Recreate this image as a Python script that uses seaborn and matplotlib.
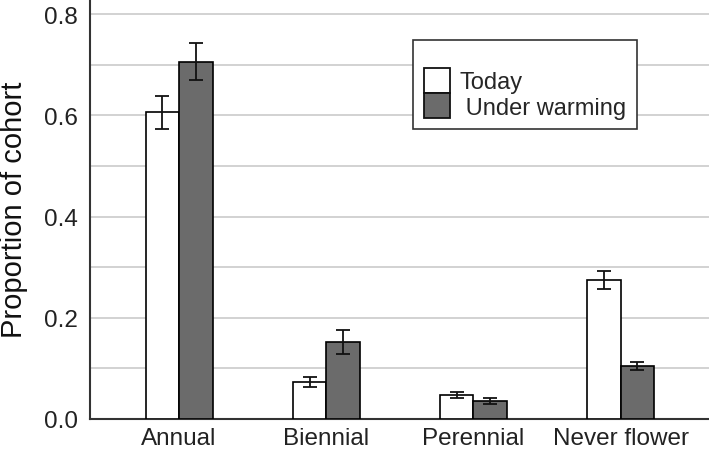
import matplotlib
matplotlib.use("Agg")
import matplotlib.pyplot as plt
import seaborn as sns
import pandas as pd
import numpy as np

categories = ["Annual", "Biennial", "Perennial", "Never flower"]
conditions = ["Today", "Under warming"]
today = [0.607, 0.072, 0.047, 0.274]
today_lo = [0.573, 0.064, 0.041, 0.256]
today_hi = [0.639, 0.082, 0.053, 0.292]
warming = [0.706, 0.153, 0.036, 0.105]
warming_lo = [0.669, 0.129, 0.030, 0.096]
warming_hi = [0.743, 0.176, 0.042, 0.112]
yticks = [0.0, 0.2, 0.4, 0.6, 0.8]
legend_labels = ["Today", " Under warming"]

df = pd.DataFrame({
    "cat": categories * 2,
    "cond": [conditions[0]] * 4 + [conditions[1]] * 4,
    "val": today + warming,
})

sns.set_style("white")
plt.rcParams["font.family"] = ["Liberation Sans", "DejaVu Sans"]

fig = plt.figure(figsize=(7.09, 4.52), dpi=100)
ax = fig.add_axes([0.127, 0.071, 0.873, 0.929])

sns.barplot(data=df, x="cat", y="val", hue="cond", order=categories,
            hue_order=conditions, palette=["white", "#6b6b6b"],
            edgecolor="black", linewidth=1.2, width=0.456, errorbar=None,
            saturation=1, ax=ax, zorder=3)

bar_containers = list(ax.containers)
los = [today_lo, warming_lo]
his = [today_hi, warming_hi]
for ci, cont in enumerate(bar_containers):
    for bi, patch in enumerate(cont.patches):
        xc = patch.get_x() + patch.get_width() / 2
        h = patch.get_height()
        ax.errorbar([xc], [h], yerr=[[h - los[ci][bi]], [his[ci][bi] - h]],
                    fmt="none", ecolor="#111111", elinewidth=1.3,
                    capsize=5, capthick=1.3, zorder=4)

ax.set_ylim(0, 0.83)
ax.set_xlim(-0.605, 3.6)
ax.set_yticks(yticks)
ax.set_yticklabels([f"{v:.1f}" for v in yticks])
for v in np.arange(0.1, 0.81, 0.1):
    ax.axhline(v, color="#cfcfcf", linewidth=1.3, zorder=0)

ax.set_xlabel("")
ax.set_ylabel("Proportion of cohort", fontsize=21, color="#111111",
              labelpad=12)
ax.tick_params(axis="both", labelsize=17.5, colors="#222222", length=5,
               width=1.3, direction="out")
ax.tick_params(axis="x", length=5, pad=0.5)
for s in ["top", "right"]:
    ax.spines[s].set_visible(False)
for s in ["left", "bottom"]:
    ax.spines[s].set_color("#333333")
    ax.spines[s].set_linewidth(1.5)

handles = ax.get_legend().legend_handles
ax.get_legend().remove()
leg = ax.legend(handles, legend_labels, loc="upper left",
                bbox_to_anchor=(0.522, 0.902), fontsize=17, title=" ",
                title_fontsize=13, frameon=True, fancybox=False,
                edgecolor="#333333", framealpha=1, handlelength=1.1,
                handleheight=1.25, labelspacing=0.0, handletextpad=0.4,
                borderpad=0.45, borderaxespad=0)
leg.get_frame().set_linewidth(1.2)
for h in leg.legend_handles:
    h.set_edgecolor("#111111")
    h.set_linewidth(1.3)

fig.savefig("out.png", dpi=100)
